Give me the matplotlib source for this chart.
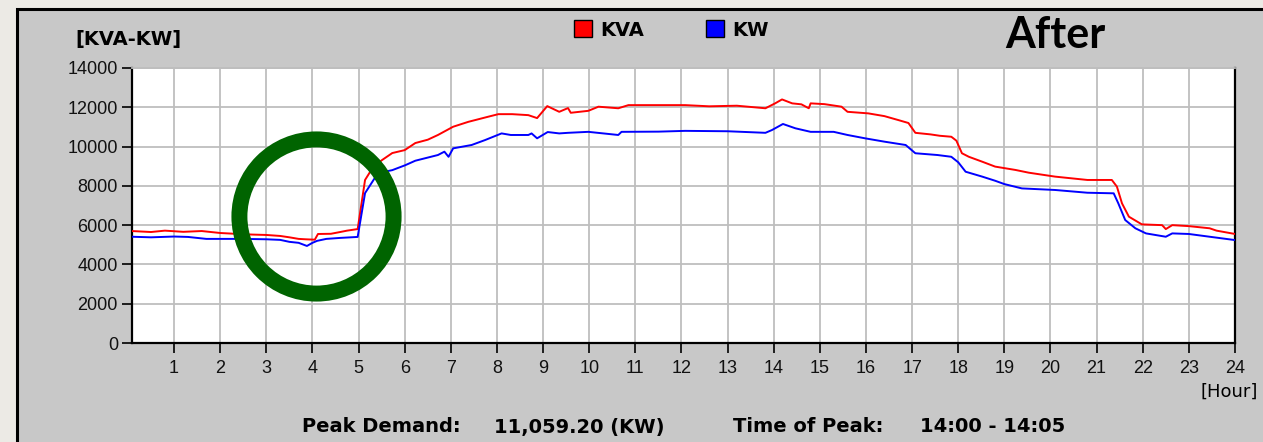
import numpy as np
import matplotlib
matplotlib.use("Agg")
import matplotlib.pyplot as plt
from matplotlib.patches import Rectangle, Patch

plt.rcParams['font.family'] = ['Liberation Sans', 'DejaVu Sans']

# 5-minute load profile (hour of day, value)
kva_hours = [0.083, 0.5, 0.8, 1.2, 1.6, 2.0, 2.4, 2.7, 3.0, 3.3, 3.5, 3.7, 3.85, 4.05,
             4.12, 4.4, 4.6, 4.75, 4.98, 5.14, 5.3, 5.5, 5.73, 6.0, 6.23, 6.5, 6.72,
             7.05, 7.38, 7.81, 8.03, 8.33, 8.68, 8.87, 9.09, 9.35, 9.54, 9.6, 9.98,
             10.2, 10.63, 10.85, 11.5, 12.08, 12.6, 13.2, 13.82, 14.03, 14.18, 14.4,
             14.6, 14.76, 14.8, 15.1, 15.47, 15.6, 16.05, 16.4, 16.7, 16.92, 17.07,
             17.4, 17.6, 17.85, 17.96, 18.08, 18.23, 18.52, 18.8, 19.24, 19.53, 20.1,
             20.8, 21.33, 21.44, 21.55, 21.7, 21.98, 22.42, 22.5, 22.64, 23.0, 23.45,
             23.6, 24.0]
kva = [5700, 5650, 5720, 5660, 5700, 5600, 5550, 5520, 5500, 5450, 5380, 5300, 5280, 5260,
       5550, 5560, 5650, 5720, 5800, 8300, 8900, 9300, 9670, 9820, 10180, 10350, 10590,
       11010, 11260, 11520, 11650, 11650, 11600, 11450, 12060, 11770, 11960, 11720, 11820,
       12030, 11950, 12110, 12110, 12110, 12050, 12080, 11950, 12200, 12400, 12200,
       12150, 11950, 12200, 12160, 12030, 11770, 11690, 11550, 11350, 11200, 10700,
       10620, 10550, 10500, 10300, 9660, 9480, 9230, 8980, 8810, 8670, 8470,
       8300, 8300, 7960, 7110, 6430, 6040, 6000, 5800, 6000, 5950, 5840,
       5720, 5550]

kw_hours = [0.083, 0.5, 1.0, 1.3, 1.7, 2.0, 2.5, 3.0, 3.3, 3.5, 3.7, 3.88, 4.0, 4.1, 4.3,
            4.6, 4.98, 5.14, 5.42, 5.73, 6.01, 6.23, 6.72, 6.86, 6.95, 7.05, 7.45, 7.74,
            8.1, 8.3, 8.68, 8.75, 8.87, 9.1, 9.35, 9.54, 9.98, 10.63, 10.7, 11.5, 12.08,
            13.0, 13.82, 13.96, 14.2, 14.47, 14.8, 15.3, 15.6, 15.98, 16.4, 16.86, 17.07,
            17.55, 17.85, 18.0, 18.16, 18.52, 18.8, 19.0, 19.38, 20.1, 20.8, 21.37, 21.47,
            21.62, 21.84, 22.07, 22.5, 22.64, 23.0, 23.45, 24.0]
kw = [5410, 5380, 5420, 5400, 5300, 5300, 5300, 5280, 5250, 5150, 5100, 4940, 5100, 5200, 5300,
      5350, 5400, 7630, 8650, 8800, 9050, 9280, 9570, 9740, 9480, 9910, 10080, 10330,
      10670, 10590, 10590, 10670, 10420, 10740, 10670, 10700, 10750, 10590, 10750, 10760, 10800,
      10780, 10700, 10840, 11150, 10930, 10750, 10750, 10590, 10420, 10250, 10080, 9660,
      9570, 9480, 9200, 8720, 8470, 8260, 8090, 7870, 7790, 7650, 7620, 7110,
      6260, 5840, 5580, 5410, 5580, 5550, 5410, 5240]

hour_ticks = list(range(1, 25))
kw_ticks = list(range(0, 14001, 2000))

# highlighted region (green ring) and summary text
ring_center = (4.08, 6460)
peak_demand = "11,059.20 (KW)"
peak_time = "14:00 - 14:05"

W, H = 1263, 442
fig = plt.figure(figsize=(W / 100, H / 100), dpi=100, facecolor="#ECEAE5")

# grey chart panel with black border on top/left
fig.patches.append(Rectangle((17 / W, -0.05), 1.1, 1 - 9 / H + 0.05, transform=fig.transFigure,
                             facecolor="#C8C8C8", edgecolor="black", linewidth=2.2, zorder=-5))

ax = fig.add_axes([131.8 / W, 1 - 343 / H, (1235 - 131.8) / W, (343 - 68) / H])
ax.set_zorder(2)
ax.set_facecolor("white")

ax.plot(kva_hours, kva, color="#FF0000", linewidth=1.4, zorder=3)
ax.plot(kw_hours, kw, color="#0000FF", linewidth=1.4, zorder=3)

ax.plot([ring_center[0]], [ring_center[1]], marker="o", markersize=111, markerfacecolor="none",
        markeredgecolor="#006400", markeredgewidth=11.5, zorder=4, clip_on=False)

ax.set_xlim(1 / 12, 24)
ax.set_ylim(0, 14000)
ax.set_xticks(hour_ticks)
ax.set_yticks(kw_ticks)
ax.grid(True, color="#BEBEBE", linewidth=1.3)
ax.set_axisbelow(True)

for side in ["left", "bottom", "right"]:
    ax.spines[side].set_color("black")
    ax.spines[side].set_linewidth(1.6)
ax.spines["top"].set_color("#BEBEBE")
ax.spines["top"].set_linewidth(1.3)

ax.tick_params(axis="both", direction="out", length=7, width=1.2, color="black",
               labelsize=13, labelcolor="#111111")
ax.tick_params(axis="x", pad=5)
ax.tick_params(axis="y", pad=3)

# titles, legend and footer
bold = dict(fontsize=14, fontweight="bold", family=["DejaVu Sans"], va="center", ha="left")
fig.text(75 / W, 1 - 40 / H, "[KVA-KW]", **bold)
fig.text(1055 / W, 1 - 35 / H, "After", fontsize=31, fontweight="bold", family=["Lato", "DejaVu Sans"],
         va="center", ha="center")
fig.text(1200 / W, 1 - 392 / H, "[Hour]", fontsize=13, family=["DejaVu Sans"], va="center", ha="left")

handles = [Patch(facecolor="#FF0000", edgecolor="black", label="KVA"),
           Patch(facecolor="#0000FF", edgecolor="black", label="KW")]
leg = fig.legend(handles=handles, ncol=2, frameon=False, loc="center left",
                 bbox_to_anchor=(560 / W, 1 - 30 / H), handlelength=0.95, handleheight=0.95,
                 handletextpad=0.4, columnspacing=3.2, borderpad=0.2,
                 prop={"weight": "bold", "size": 14, "family": "DejaVu Sans"})

fig.text(302 / W, 1 - 427 / H, "Peak Demand:", **bold)
fig.text(494 / W, 1 - 427 / H, peak_demand, **bold)
fig.text(733 / W, 1 - 427 / H, "Time of Peak:", **bold)
fig.text(920 / W, 1 - 427 / H, peak_time, **bold)

fig.savefig("out.png", dpi=100, facecolor=fig.get_facecolor())
